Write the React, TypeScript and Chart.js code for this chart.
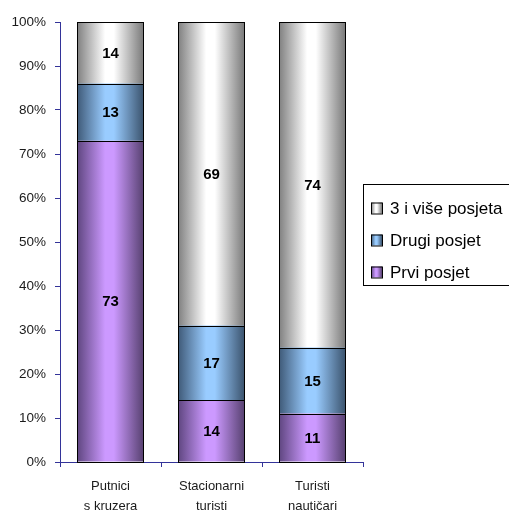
import React, { useEffect, useRef } from "react";
import { Chart, registerables } from "chart.js";

Chart.register(...registerables);

const categories: string[][] = [
  ["Putnici", "s kruzera"],
  ["Stacionarni", "turisti"],
  ["Turisti", "nautičari"],
];
const seriesNames = ["Prvi posjet", "Drugi posjet", "3 i više posjeta"];
const prviPosjet = [73, 14, 11];
const drugiPosjet = [13, 17, 15];
const triIVise = [14, 69, 74];

const FONT = "'Liberation Sans', Arial, sans-serif";
const AXIS = "#333399";
const palettes = [
  { dark: "#5f4680", light: "#cc99ff", darker: "#56406f" },
  { dark: "#3f5a78", light: "#99ccff", darker: "#3a526c" },
  { dark: "#808080", light: "#ffffff", darker: "#787878" },
];
const BAR_PCT = 0.66;

function makeGradient(ctx: CanvasRenderingContext2D, x0: number, x1: number, p: any) {
  const g = ctx.createLinearGradient(x0, 0, x1, 0);
  g.addColorStop(0, p.dark);
  g.addColorStop(0.42, p.light);
  g.addColorStop(0.55, p.light);
  g.addColorStop(1, p.darker);
  return g;
}

const crispOutlines = {
  id: "crispOutlines",
  afterDatasetsDraw(chart: any) {
    const ctx = chart.ctx;
    ctx.save();
    ctx.strokeStyle = "#000";
    ctx.lineWidth = 1;
    chart.data.datasets.forEach((_ds: any, di: number) => {
      const meta = chart.getDatasetMeta(di);
      meta.data.forEach((el: any) => {
        const x0 = Math.round(el.x - el.width / 2) + 0.5;
        const x1 = Math.round(el.x + el.width / 2) - 0.5;
        const y0 = Math.round(Math.min(el.y, el.base)) + 0.5;
        const y1 = Math.round(Math.max(el.y, el.base)) + 0.5;
        ctx.strokeRect(x0, y0, x1 - x0, y1 - y0);
      });
    });
    ctx.restore();
  },
};

const valueLabels = {
  id: "valueLabels",
  afterDatasetsDraw(chart: any) {
    const ctx = chart.ctx;
    ctx.save();
    ctx.font = `bold 15px ${FONT}`;
    ctx.fillStyle = "#000";
    ctx.textAlign = "center";
    ctx.textBaseline = "middle";
    chart.data.datasets.forEach((ds: any, di: number) => {
      const meta = chart.getDatasetMeta(di);
      meta.data.forEach((el: any, i: number) => {
        const v = ds.data[i];
        ctx.fillText(String(v), el.x, (el.y + el.base) / 2 + 1);
      });
    });
    ctx.restore();
  },
};

const boxLegend = {
  id: "boxLegend",
  afterDraw(chart: any) {
    const ctx = chart.ctx;
    const area = chart.chartArea;
    const left = area.right;
    const midY = (area.top + area.bottom) / 2;
    const top = midY - 58;
    const height = 101;
    ctx.save();
    ctx.strokeStyle = "#000";
    ctx.lineWidth = 1;
    ctx.strokeRect(left + 0.5, top + 0.5, chart.width - left + 20, height);
    const items = chart.data.datasets.map((d: any, i: number) => ({ label: d.label, i })).reverse();
    ctx.font = `17px ${FONT}`;
    ctx.textBaseline = "middle";
    ctx.textAlign = "left";
    items.forEach((it: any, k: number) => {
      const cy = top + 24 + k * 32;
      const sx = left + 8;
      const sy = cy - 5.5;
      ctx.fillStyle = makeGradient(ctx, sx, sx + 11, palettes[it.i]);
      ctx.fillRect(sx, sy, 11, 11);
      ctx.strokeStyle = "#000";
      ctx.strokeRect(sx + 0.5, sy + 0.5, 11, 11);
      ctx.fillStyle = "#000";
      ctx.fillText(it.label, left + 27, cy + 1);
    });
    ctx.restore();
  },
};

export default function App() {
  const ref = useRef<HTMLCanvasElement>(null);
  useEffect(() => {
    if (!ref.current) return;
    const bg = (di: number) => (c: any) => {
      const chart = c.chart;
      const p = palettes[di];
      if (c.type !== "data" || !chart.chartArea) return p.light;
      const xs = chart.scales.x;
      const cx = xs.getPixelForValue(c.dataIndex);
      const half = (xs.width / categories.length) * BAR_PCT / 2;
      return makeGradient(chart.ctx, cx - half, cx + half, p);
    };
    const series = [prviPosjet, drugiPosjet, triIVise];
    const chart = new Chart(ref.current, {
      type: "bar",
      data: {
        labels: categories,
        datasets: series.map((d, i) => ({
          label: seriesNames[i],
          data: d,
          backgroundColor: bg(i),
          borderWidth: 0,
          categoryPercentage: 1,
          barPercentage: BAR_PCT,
        })),
      },
      options: {
        responsive: false,
        animation: false,
        devicePixelRatio: 1,
        layout: { padding: { top: 22, right: 146, left: 0, bottom: 0 } },
        plugins: { legend: { display: false }, tooltip: { enabled: false } },
        scales: {
          x: {
            stacked: true,
            grid: { offset: true, drawOnChartArea: false, drawTicks: true, tickLength: 5, color: AXIS },
            border: { color: AXIS, width: 1 },
            ticks: {
              font: { family: FONT, size: 13, lineHeight: 1.5 },
              color: "#1a1a1a",
              padding: 10,
              maxRotation: 0,
              autoSkip: false,
            },
            afterFit: (s: any) => {
              s.height = 52;
            },
          },
          y: {
            stacked: true,
            min: 0,
            max: 100,
            ticks: {
              stepSize: 10,
              callback: (v: any) => v + "%",
              font: { family: FONT, size: 13.5 },
              color: "#1a1a1a",
              padding: 9,
            },
            grid: { drawOnChartArea: false, tickLength: 5, color: AXIS },
            border: { color: AXIS, width: 1 },
            afterFit: (s: any) => {
              s.width = 60;
            },
          },
        },
      },
      plugins: [crispOutlines, valueLabels, boxLegend],
    });
    return () => chart.destroy();
  }, []);
  return (
    <div style={{ position: "fixed", left: 0, top: 0, width: 509, height: 514, background: "#fff" }}>
      <canvas ref={ref} width={509} height={514} style={{ display: "block" }} />
    </div>
  );
}
